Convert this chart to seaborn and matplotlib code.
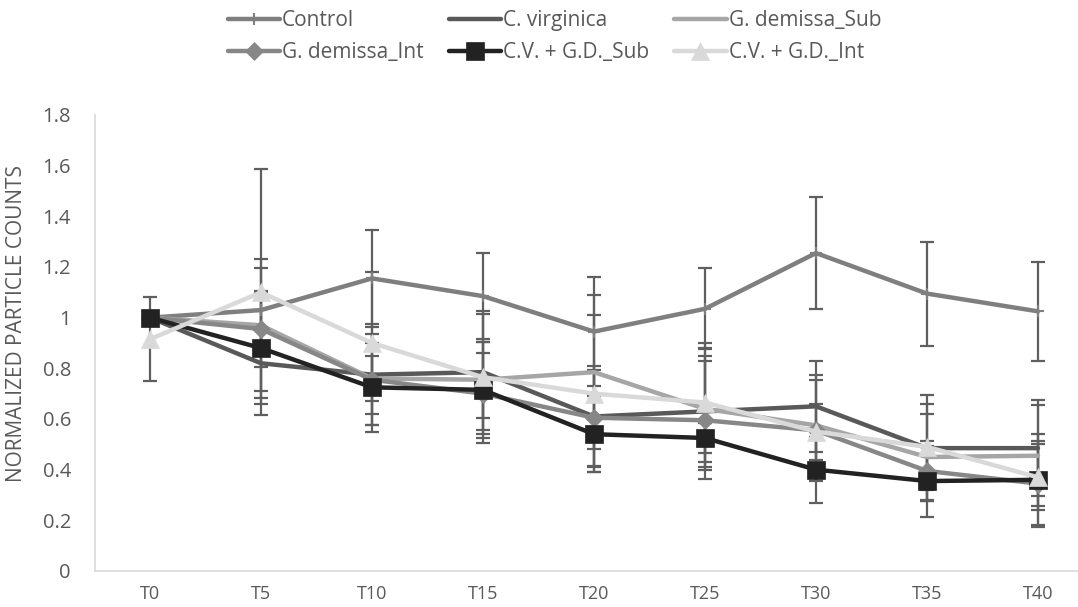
import numpy as np
import pandas as pd
import matplotlib
matplotlib.use("Agg")
import matplotlib.pyplot as plt
import seaborn as sns

times = ["T0", "T5", "T10", "T15", "T20", "T25", "T30", "T35", "T40"]

control = [1.0, 1.03, 1.155, 1.085, 0.945, 1.035, 1.255, 1.095, 1.025]
control_err = [0.0, 0.165, 0.19, 0.17, 0.215, 0.16, 0.22, 0.205, 0.195]

c_virginica = [1.0, 0.82, 0.775, 0.785, 0.61, 0.63, 0.65, 0.485, 0.485]
c_virginica_err = [0.0, 0.138, 0.2, 0.23, 0.2, 0.22, 0.18, 0.21, 0.19]

g_demissa_sub = [1.0, 0.97, 0.76, 0.755, 0.785, 0.64, 0.575, 0.45, 0.455]
g_demissa_sub_err = [0.0, 0.26, 0.09, 0.15, 0.305, 0.24, 0.2, 0.17, 0.2]

g_demissa_int = [1.0, 0.955, 0.755, 0.70, 0.605, 0.595, 0.555, 0.395, 0.345]
g_demissa_int_err = [0.0, 0.15, 0.18, 0.16, 0.19, 0.232, 0.2, 0.12, 0.17]

cvgd_sub = [1.0, 0.88, 0.725, 0.715, 0.54, 0.525, 0.40, 0.355, 0.36]
cvgd_sub_err = [0.0, 0.22, 0.175, 0.19, 0.15, 0.06, 0.13, 0.14, 0.18]

cvgd_int = [0.915, 1.10, 0.90, 0.765, 0.70, 0.665, 0.55, 0.49, 0.37]
cvgd_int_err = [0.165, 0.485, 0.28, 0.26, 0.31, 0.235, 0.11, 0.17, 0.13]

series_names = ["Control", "C. virginica", "G. demissa_Sub",
                "G. demissa_Int", "C.V. + G.D._Sub", "C.V. + G.D._Int"]
series_vals = [control, c_virginica, g_demissa_sub, g_demissa_int, cvgd_sub, cvgd_int]
series_errs = [control_err, c_virginica_err, g_demissa_sub_err,
               g_demissa_int_err, cvgd_sub_err, cvgd_int_err]

colors = ["#7f7f7f", "#595959", "#a6a6a6", "#878787", "#222222", "#d9d9d9"]
markers = ["+", "", "", "D", "s", "^"]
msizes = [8, 0, 0, 9, 13, 12.5]

sns.set_theme(style="white")
plt.rcParams['font.family'] = ['Open Sans', 'DejaVu Sans']

rows = []
for name, vals, errs in zip(series_names, series_vals, series_errs):
    for i, (t, v, e) in enumerate(zip(times, vals, errs)):
        rows.append({"series": name, "pos": i, "time": t, "value": v, "err": e})
df = pd.DataFrame(rows)

fig = plt.figure(figsize=(10.78, 6.07), dpi=100)
ax = fig.add_axes([94.5 / 1078, 36 / 607, 999 / 1078, 456 / 607])

# error bars (drawn beneath lines)
for name in series_names:
    sub = df[df["series"] == name]
    ax.errorbar(sub["pos"], sub["value"], yerr=sub["err"], fmt="none",
                ecolor="#5f5f5f", elinewidth=1.6, capsize=5, capthick=1.6, zorder=1)

handles = []
for k, name in enumerate(series_names):
    sub = df[df["series"] == name]
    mk = markers[k] if markers[k] else None
    mew = 1.5 if markers[k] == "+" else 0.5
    sns.lineplot(data=sub, x="pos", y="value", ax=ax, color=colors[k],
                 linewidth=3.2, marker=mk, markersize=msizes[k],
                 markeredgecolor=colors[k], markeredgewidth=mew,
                 errorbar=None, zorder=2 + k, label=name, legend=False)
    h, = ax.plot([], [], color=colors[k], linewidth=3.2, marker=mk,
                 markersize=msizes[k], markeredgecolor=colors[k], markeredgewidth=mew)
    handles.append(h)

ax.set_xlim(-0.5, 8.5)
ax.set_ylim(0, 1.8)
ax.set_xticks(range(len(times)))
ax.set_xticklabels(times)
yt = np.round(np.arange(0, 1.81, 0.2), 1)
ax.set_yticks(yt)
ax.set_yticklabels([("%g" % v) for v in yt])
ax.tick_params(axis="x", length=0, pad=10, labelsize=13, labelcolor="#595959")
ax.tick_params(axis="y", length=0, pad=17, labelsize=14.5, labelcolor="#595959")
ax.set_xlabel("")
ax.set_ylabel("NORMALIZED PARTICLE COUNTS", fontsize=15, color="#595959")
ax.yaxis.set_label_coords(-0.0676, 0.543)

for s in ["top", "right"]:
    ax.spines[s].set_visible(False)
for s in ["left", "bottom"]:
    ax.spines[s].set_color("#d9d9d9")
    ax.spines[s].set_linewidth(1.2)

# legend filled row-wise (3 columns, 2 rows)
order = [0, 3, 1, 4, 2, 5]
fig.legend([handles[i] for i in order], [series_names[i] for i in order],
           loc="upper center", bbox_to_anchor=(0.5144, 1.0),
           ncol=3, frameon=False, fontsize=15, handlelength=2.5, handletextpad=0.12,
           columnspacing=1.2, labelspacing=0.5, labelcolor="#595959", borderaxespad=0.1)

fig.savefig("out.png", dpi=100)
